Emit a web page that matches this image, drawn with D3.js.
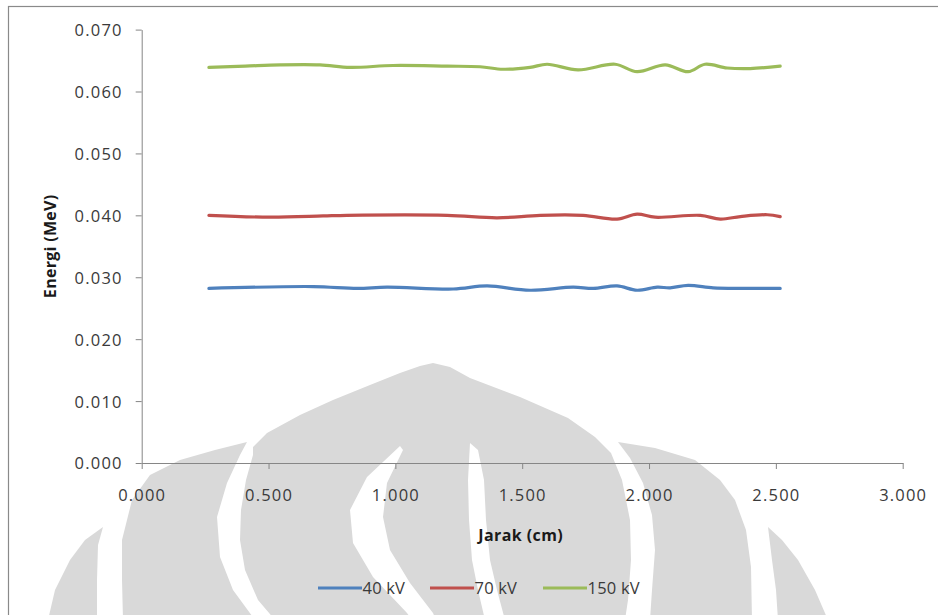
<!DOCTYPE html>
<html>
<head>
<meta charset="utf-8">
<script src="https://cdn.jsdelivr.net/npm/d3@7"></script>
<style>
  html, body { margin: 0; padding: 0; background: #ffffff; }
  svg { display: block; }
  text { font-family: "Open Sans", "Liberation Sans", sans-serif; }
</style>
</head>
<body>
<svg id="chart" width="938" height="615"></svg>
<script>
// ---------------- data ----------------
const seriesNames = ["40 kV", "70 kV", "150 kV"];

const x40 = [0.265, 0.676, 0.850, 0.967, 1.228, 1.362, 1.531, 1.701, 1.780, 1.874, 1.953, 2.032, 2.083, 2.154, 2.253, 2.360, 2.517];
const y40 = [0.0282, 0.0285, 0.0282, 0.0284, 0.0281, 0.0286, 0.0279, 0.0284, 0.0282, 0.0286, 0.0279, 0.0284, 0.0283, 0.0287, 0.0283, 0.0282, 0.0282];

const x70 = [0.265, 0.506, 0.715, 0.809, 1.204, 1.401, 1.571, 1.740, 1.874, 1.953, 2.024, 2.202, 2.281, 2.360, 2.466, 2.517];
const y70 = [0.0400, 0.0397, 0.0399, 0.0400, 0.0400, 0.0396, 0.0400, 0.0400, 0.0394, 0.0402, 0.0397, 0.0400, 0.0394, 0.0398, 0.0401, 0.0398];

const x150 = [0.265, 0.408, 0.546, 0.703, 0.822, 0.991, 1.204, 1.334, 1.425, 1.531, 1.598, 1.720, 1.866, 1.953, 2.064, 2.154, 2.221, 2.308, 2.399, 2.517];
const y150 = [0.0639, 0.0641, 0.0643, 0.0643, 0.0639, 0.0642, 0.0641, 0.0640, 0.0636, 0.0639, 0.0644, 0.0635, 0.0644, 0.0632, 0.0643, 0.0632, 0.0644, 0.0638, 0.0637, 0.0641];

const xTicks = [0, 0.5, 1.0, 1.5, 2.0, 2.5, 3.0];
const yTicks = [0, 0.01, 0.02, 0.03, 0.04, 0.05, 0.06, 0.07];
const xTitle = "Jarak (cm)";
const yTitle = "Energi (MeV)";

const seriesColors = ["#4F81BD", "#C0504D", "#9BBB59"];

// ---------------- layout ----------------
const svg = d3.select("#chart");
const W = 938, H = 615;
const plot = { left: 141.7, right: 902.7, top: 29.6, bottom: 463 };

const x = d3.scaleLinear().domain([0, 3]).range([plot.left, plot.right]);
const y = d3.scaleLinear().domain([0, 0.07]).range([plot.bottom, plot.top]);

svg.append("rect").attr("x", 0).attr("y", 0).attr("width", W).attr("height", H).attr("fill", "#ffffff");

// ---------------- background watermark (decorative) ----------------
const wmGray = "#d9d9d9";
const watermarkGray = [
  // central arch
  [[253,447],[267,433],[300,415],[333,400],[370,385],[400,373],[420,366],[433,363],[450,367],[470,378],[520,397],[568,418],[595,437],[611,453],[622,480],[630,520],[631,560],[628,600],[625,620],[275,620],[258,600],[245,570],[240,540],[241,510],[246,480],[253,455]],
  // left wing
  [[247,442],[215,450],[180,460],[150,475],[132,500],[122,540],[122,580],[123,620],[255,620],[233,590],[220,557],[217,517],[227,483],[240,455]],
  // right wing
  [[618,442],[655,448],[695,460],[720,480],[735,500],[746,530],[751,567],[752,620],[650,620],[652,590],[655,550],[652,515],[643,483],[630,458]],
  // left outer arc
  [[103,527],[98,545],[97,580],[97,620],[48,620],[55,590],[70,560],[85,540]],
  // right outer arc
  [[768,527],[772,560],[776,590],[778,620],[828,620],[815,590],[798,560],[782,540]]
];
const watermarkWhite = [
  [[400,446],[367,477],[350,510],[353,543],[373,577],[407,613],[412,620],[436,620],[433,613],[410,583],[390,550],[383,517],[387,483],[403,450]],
  [[470,443],[468,480],[469,520],[472,560],[478,590],[485,620],[505,620],[497,590],[490,560],[486,520],[484,480],[478,450]]
];
const wmLine = d3.line().curve(d3.curveLinearClosed);
const wm = svg.append("g").attr("class", "watermark");
watermarkGray.forEach(p => wm.append("path").attr("d", wmLine(p)).attr("fill", wmGray));
watermarkWhite.forEach(p => wm.append("path").attr("d", wmLine(p)).attr("fill", "#ffffff"));

// chart border
svg.append("rect").attr("x", 8.5).attr("y", 6.5).attr("width", 960).attr("height", 640)
  .attr("fill", "none").attr("stroke", "#8a8a8a").attr("stroke-width", 1.2);

// ---------------- axes ----------------
const axisColor = "#868686";
const labelColor = "#3a3a3a";

const yAxis = svg.append("g")
  .attr("transform", `translate(${plot.left},0)`)
  .call(d3.axisLeft(y).tickValues(yTicks).tickSize(6).tickSizeOuter(0).tickFormat(d3.format(".3f")));
yAxis.select(".domain").attr("stroke", axisColor);
yAxis.selectAll(".tick line").attr("stroke", axisColor);
yAxis.selectAll(".tick text")
  .attr("x", -19).attr("dy", "0.36em")
  .attr("fill", labelColor)
  .style("font-size", "16.5px").style("letter-spacing", "1.2px")
  .style("font-family", "'Open Sans', sans-serif");

const xAxis = svg.append("g")
  .attr("transform", `translate(0,${plot.bottom})`)
  .call(d3.axisBottom(x).tickValues(xTicks).tickSize(6).tickSizeOuter(0).tickFormat(d3.format(".3f")));
xAxis.select(".domain").attr("stroke", axisColor);
xAxis.selectAll(".tick line").attr("stroke", axisColor);
xAxis.selectAll(".tick text")
  .attr("y", 37.7).attr("dy", 0)
  .attr("fill", labelColor)
  .style("font-size", "16.5px").style("letter-spacing", "1.2px")
  .style("font-family", "'Open Sans', sans-serif");

// axis titles
svg.append("text")
  .attr("x", (plot.left + plot.right) / 2 - 1.5).attr("y", 541)
  .attr("text-anchor", "middle")
  .attr("fill", "#1a1a1a")
  .style("font-size", "16px").style("font-weight", "bold").style("letter-spacing", "0.4px")
  .text(xTitle);

svg.append("text")
  .attr("transform", `translate(56,${(plot.top + plot.bottom) / 2}) rotate(-90)`)
  .attr("text-anchor", "middle")
  .attr("fill", "#1a1a1a")
  .style("font-size", "16px").style("font-weight", "bold").style("letter-spacing", "0.3px")
  .text(yTitle);

// ---------------- series ----------------
const seriesData = [
  x40.map((v, i) => [v, y40[i]]),
  x70.map((v, i) => [v, y70[i]]),
  x150.map((v, i) => [v, y150[i]])
];

const line = d3.line()
  .x(d => x(d[0]))
  .y(d => y(d[1]))
  .curve(d3.curveCatmullRom.alpha(0.5));

svg.append("g").selectAll("path")
  .data(seriesData)
  .join("path")
  .attr("d", line)
  .attr("fill", "none")
  .attr("stroke", (d, i) => seriesColors[i])
  .attr("stroke-width", 3.2)
  .attr("stroke-linecap", "round")
  .attr("stroke-linejoin", "round");

// ---------------- legend ----------------
const legendY = 588;
const legendStarts = [318, 430, 543];
const legend = svg.append("g");
seriesNames.forEach((name, i) => {
  const g = legend.append("g").attr("transform", `translate(${legendStarts[i]},${legendY})`);
  g.append("line").attr("x1", 0).attr("x2", 44).attr("y1", 0).attr("y2", 0)
    .attr("stroke", seriesColors[i]).attr("stroke-width", 3.2);
  g.append("text").attr("x", 44.5).attr("dy", "0.36em")
    .attr("fill", labelColor)
    .style("font-size", "16.5px").style("letter-spacing", "0.2px")
    .text(name);
});
</script>
</body>
</html>
